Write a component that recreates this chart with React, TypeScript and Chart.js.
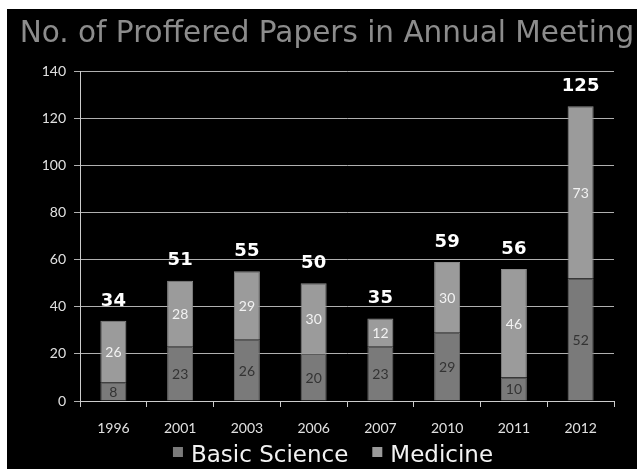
import React, { useEffect, useRef } from "react";
import { Chart, registerables } from "chart.js";

Chart.register(...registerables);

const years = ["1996", "2001", "2003", "2006", "2007", "2010", "2011", "2012"];
const basicScience = [8, 23, 26, 20, 23, 29, 10, 52];
const medicine = [26, 28, 29, 30, 12, 30, 46, 73];
const totals = [34, 51, 55, 50, 35, 59, 56, 125];
const yTicks = [0, 20, 40, 60, 80, 100, 120, 140];
const titleText = "No. of Proffered Papers in Annual Meeting";
const seriesNames = ["Basic Science", "Medicine"];
const seriesColors = ["#7a7a7a", "#9b9b9b"];

const overlayPlugin = {
  id: "overlay",
  afterDatasetsDraw(chart: any) {
    const ctx = chart.ctx;
    ctx.save();
    ctx.textAlign = "center";
    ctx.textBaseline = "middle";
    const labelColors = ["#333333", "#f2f2f2"];
    chart.data.datasets.forEach((ds: any, di: number) => {
      const meta = chart.getDatasetMeta(di);
      meta.data.forEach((el: any, i: number) => {
        const mid = (el.y + el.base) / 2;
        ctx.font = "14px Lato, 'DejaVu Sans', sans-serif";
        ctx.fillStyle = labelColors[di];
        ctx.fillText(String(ds.data[i]), el.x, mid + 1);
      });
    });
    const top = chart.getDatasetMeta(chart.data.datasets.length - 1);
    ctx.font = "bold 18px 'DejaVu Sans', sans-serif";
    ctx.fillStyle = "#ffffff";
    top.data.forEach((el: any, i: number) => {
      ctx.fillText(String(totals[i]), el.x, el.y - 20);
    });

    // title
    ctx.font = "29.5px 'DejaVu Sans', sans-serif";
    ctx.fillStyle = "#8c8c8c";
    ctx.fillText(titleText, 320, 25);

    // legend
    ctx.font = "23px 'DejaVu Sans', sans-serif";
    ctx.textAlign = "left";
    const box = 10;
    const gapBox = 8;
    const gapItem = 24;
    const widths = seriesNames.map((n) => ctx.measureText(n).width);
    const total = widths.reduce((a, w) => a + box + gapBox + w, 0) + gapItem;
    let x = 326 - total / 2;
    const y = 447;
    seriesNames.forEach((n, i) => {
      ctx.fillStyle = seriesColors[i];
      ctx.fillRect(x, y - 9, box, box);
      x += box + gapBox;
      ctx.fillStyle = "#f2f2f2";
      ctx.fillText(n, x, y);
      x += widths[i] + gapItem;
    });
    ctx.restore();
  },
};

export default function App() {
  const ref = useRef<HTMLCanvasElement>(null);
  useEffect(() => {
    if (!ref.current) return;
    const chart = new Chart(ref.current, {
      type: "bar",
      data: {
        labels: years,
        datasets: [
          {
            label: seriesNames[0],
            data: basicScience,
            backgroundColor: seriesColors[0],
            borderColor: "#6c6c6c",
            borderWidth: 1,
            categoryPercentage: 1,
            barPercentage: 0.39,
          },
          {
            label: seriesNames[1],
            data: medicine,
            backgroundColor: seriesColors[1],
            borderColor: "#8a8a8a",
            borderWidth: 1,
            categoryPercentage: 1,
            barPercentage: 0.39,
          },
        ],
      },
      options: {
        animation: false,
        responsive: true,
        maintainAspectRatio: false,
        layout: { padding: { top: 62, right: 23, left: 0, bottom: 23 } },
        plugins: {
          legend: { display: false },
          title: { display: false },
          tooltip: { enabled: false },
        },
        scales: {
          x: {
            stacked: true,
            afterFit(scale: any) {
              scale.height = 45;
            },
            grid: {
              drawOnChartArea: false,
              drawTicks: true,
              tickLength: 6,
              color: "#cccccc",
              offset: true,
            },
            border: { color: "#cccccc", width: 1 },
            ticks: {
              color: "#e0e0e0",
              font: { size: 14, family: "Lato, 'DejaVu Sans', sans-serif" },
              padding: 13,
            },
          },
          y: {
            stacked: true,
            min: 0,
            max: 140,
            afterFit(scale: any) {
              scale.width = 73;
            },
            afterBuildTicks(scale: any) {
              scale.ticks = yTicks.map((v) => ({ value: v }));
            },
            grid: { color: "#b0b0b0", tickLength: 6, lineWidth: 1 },
            border: { color: "#cccccc", width: 1 },
            ticks: {
              color: "#e0e0e0",
              font: { size: 14, family: "Lato, 'DejaVu Sans', sans-serif" },
              padding: 8,
            },
          },
        },
      },
      plugins: [overlayPlugin],
    });
    return () => chart.destroy();
  }, []);
  return (
    <div
      style={{
        position: "absolute",
        left: 7,
        top: 9,
        width: 630,
        height: 460,
        background: "#000",
      }}
    >
      <canvas ref={ref} />
    </div>
  );
}
